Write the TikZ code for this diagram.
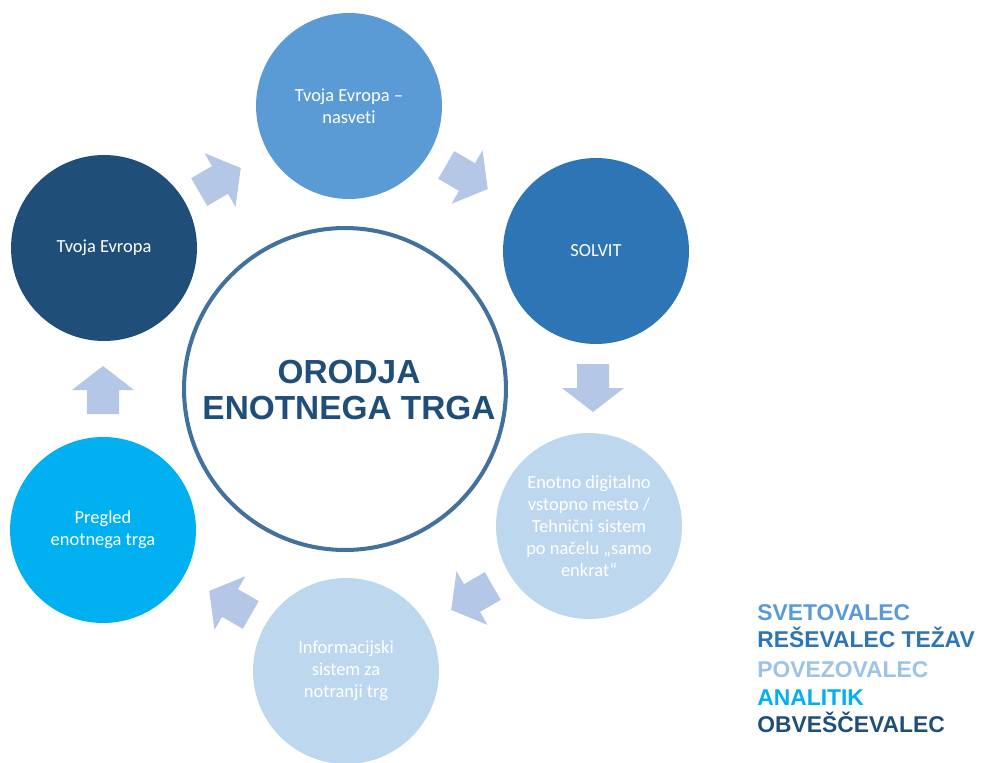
\documentclass[tikz,border=0pt]{standalone}
\usepackage{fontspec}
\usepackage{tikz}
\usepackage{xcolor}
\setmainfont{Carlito}[Ligatures=NoCommon]
\newfontfamily\headfont{Liberation Sans}[BoldFont=* Bold]

\definecolor{navy}{HTML}{1F4E79}
\definecolor{midblue}{HTML}{5B9BD5}
\definecolor{deepblue}{HTML}{2E75B6}
\definecolor{paleblue}{HTML}{BDD7EE}
\definecolor{skyblue}{HTML}{00B0F0}
\definecolor{ringblue}{HTML}{41719C}
\definecolor{arrowblue}{HTML}{B4C7E7}
\definecolor{legendpale}{HTML}{9DC3E6}

\begin{document}
\begin{tikzpicture}[x=0.02cm, y=0.02cm,
        tool/.style={circle, minimum size=3.72cm, inner sep=0pt, align=center,
            text=white, font=\fontsize{10.5}{12.5}\selectfont},
        legend/.style={anchor=base west, inner sep=0pt,
            font=\headfont\bfseries\fontsize{13}{15}\selectfont}]
                \useasboundingbox (0, 0) rectangle (986, 762);

                % central hub
                \node[circle, draw=ringblue, line width=2.3pt, minimum size=6.44cm,
                    inner sep=0pt] (hub) at (345, 373) {};
                \node[align=center, text=navy,
                    font=\headfont\bfseries\fontsize{19}{21}\selectfont] (title) at (349, 372)
                    {ORODJA\\ENOTNEGA TRGA};

                % tools round the hub
                \node[tool, fill=midblue] (nasveti) at (349, 656) {Tvoja Evropa --\\nasveti};
                \node[tool, fill=deepblue] (solvit) at (596, 511) {SOLVIT};
                \node[tool, fill=paleblue] (vstop) at (589, 236)
                    {Enotno digitalno\\vstopno mesto /\\Tehnični sistem\\po načelu „samo\\enkrat“};
                \node[tool, fill=paleblue] (imi) at (346, 91)
                    {Informacijski\\sistem za\\notranji trg};
                \node[tool, fill=skyblue] (pregled) at (103, 232) {Pregled\\enotnega trga};
                \node[tool, fill=navy] (evropa) at (104, 514) {Tvoja Evropa};

                % block arrows between the tools
                \foreach \x/\y/\r in {220/582/30, 467/585/-30, 593/374/-90,
                        472/164/-150, 230/159/150, 103/372/90}
                    \fill[arrowblue, shift={(\x, \y)}, rotate=\r]
                    (-24, -16) -- (0, -16) -- (0, -31) -- (24, 0) -- (0, 31) -- (0, 16)
                    -- (-24, 16) -- cycle;

                % legend
                \node[legend, text=midblue] (svet) at (757, 142) {SVETOVALEC};
                \node[legend, text=deepblue] (resev) at (757, 115) {REŠEVALEC TEŽAV};
                \node[legend, text=legendpale] (povez) at (757, 85) {POVEZOVALEC};
                \node[legend, text=skyblue] (anal) at (757, 57) {ANALITIK};
                \node[legend, text=navy] (obves) at (757, 30) {OBVEŠČEVALEC};
            \end{tikzpicture}
\end{document}
